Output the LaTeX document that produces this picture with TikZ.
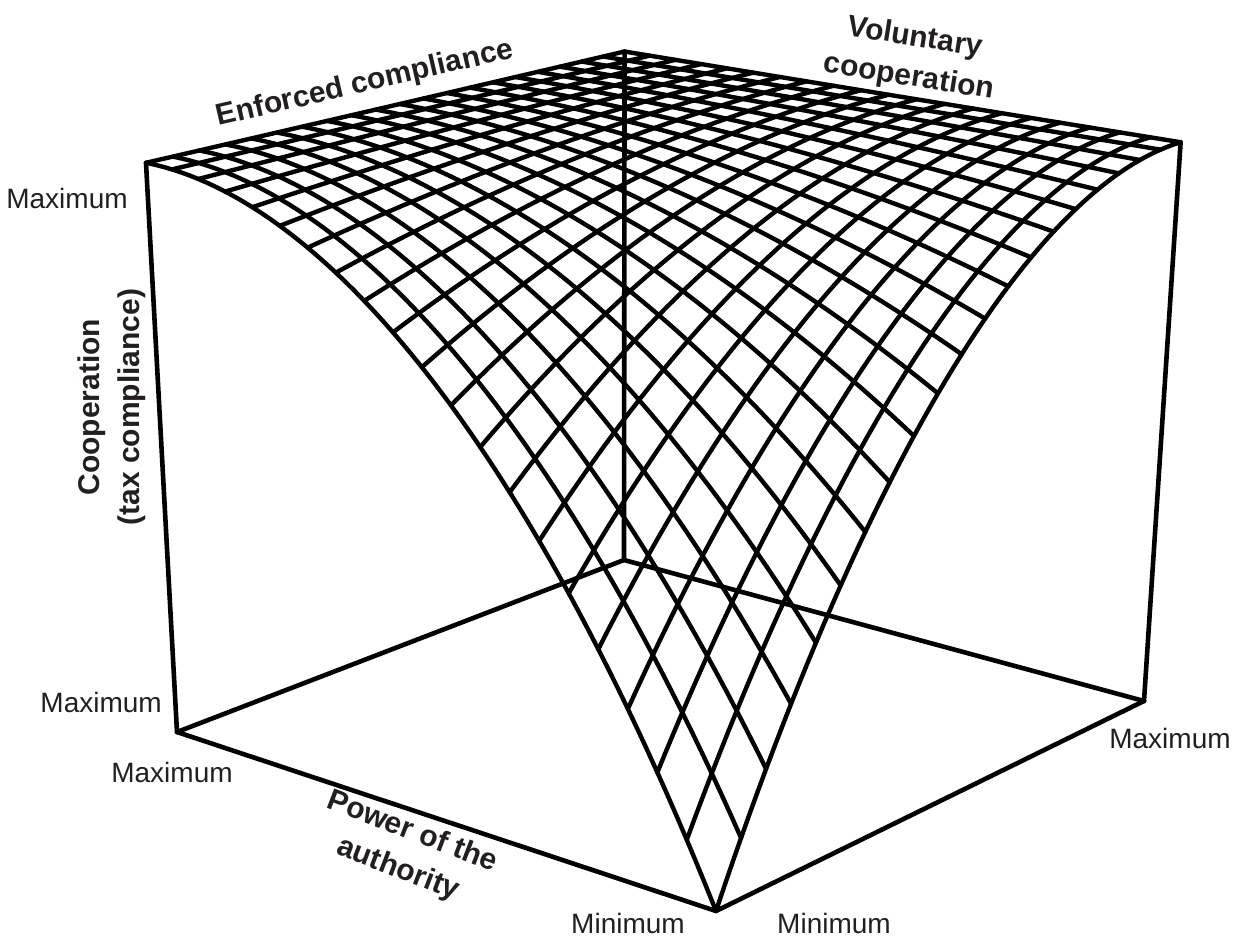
\documentclass[tikz,border=0pt]{standalone}
\usepackage{fontspec}
\setmainfont{Liberation Sans}
\definecolor{txt}{HTML}{231F20}
\begin{document}
\begin{tikzpicture}[x=1pt,y=-1pt,
  declare function={
    ww(\p,\q)=1+0.11203*\p+0.13284*\q;
    bx(\p,\q)=(-519.17*\p+579.97*\q+716)/ww(\p,\q);
    by(\p,\q)=(-96.99*\p-116.88*\q+911)/ww(\p,\q);
    zz(\p,\q)=1-((1-\p)*(1-\q))*((1-\p)*(1-\q));
    hh(\p,\q)=633*zz(\p,\q)/ww(\p,\q);
    px(\p,\q)=bx(\p,\q)+hh(\p,\q)*((bx(\p,\q)-615)/(8770-by(\p,\q)));
    py(\p,\q)=by(\p,\q)-hh(\p,\q);
  },
  gridline/.style={line width=4.4pt, line join=round, line cap=round},
  boxedge/.style={line width=4.6pt, line cap=round, line join=round},
  lab/.style={font=\fontsize{28pt}{32pt}\selectfont, text=txt, inner sep=0pt},
  blab/.style={font=\fontsize{30pt}{40pt}\selectfont\bfseries, text=txt, inner sep=0pt, align=center}]
\useasboundingbox (0,0) rectangle (1240,938);
% box corners
\coordinate (O) at ({bx(0,0)},{by(0,0)});
\coordinate (L) at ({bx(1,0)},{by(1,0)});
\coordinate (R) at ({bx(0,1)},{by(0,1)});
\coordinate (K) at ({bx(1,1)},{by(1,1)});
\coordinate (TL) at ({px(1,0)},{py(1,0)});
\coordinate (TR) at ({px(0,1)},{py(0,1)});
\coordinate (TK) at ({px(1,1)},{py(1,1)});
% box edges
\draw[boxedge] (L) -- (O) -- (R);
\draw[boxedge] (L) -- (K) -- (R);
\draw[boxedge] (L) -- (TL);
\draw[boxedge] (R) -- (TR);
\draw[boxedge] (K) -- (TK);
% surface grid
\foreach \i in {0,...,20}{
  \draw[gridline] plot[domain=0:1, samples=61, variable=\t] ({px(\i/20,\t)},{py(\i/20,\t)});
  \draw[gridline] plot[domain=0:1, samples=61, variable=\t] ({px(\t,\i/20)},{py(\t,\i/20)});
}
% labels
\node[blab, rotate=13] (enf) at (365,84) {Enforced compliance};
\node[blab, rotate=-9] (vol) at (912,58) {Voluntary\\cooperation};
\node[blab, rotate=90] (coop) at (112,407) {Cooperation\\(tax compliance)};
\node[blab, rotate=-21] (pow) at (405,851) {Power of the\\authority};
\node[lab, anchor=base] (m1) at (67,208) {Maximum};
\node[lab, anchor=base east] (m2) at (162,712) {Maximum};
\node[lab, anchor=base] (m3) at (172,782) {Maximum};
\node[lab, anchor=base] (m4) at (1170,748) {Maximum};
\node[lab, anchor=base] (n1) at (628,933) {Minimum};
\node[lab, anchor=base] (n2) at (834,933) {Minimum};
\end{tikzpicture}
\end{document}
